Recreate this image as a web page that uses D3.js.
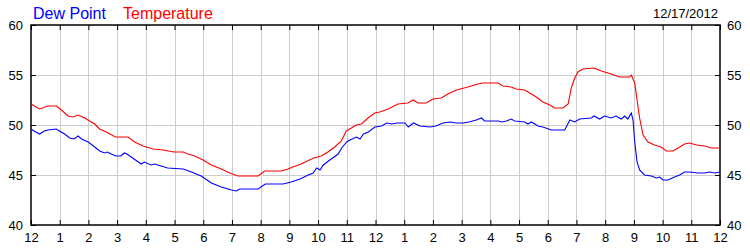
<!DOCTYPE html>
<html>
<head>
<meta charset="utf-8">
<script src="https://cdn.jsdelivr.net/npm/d3@7"></script>
<style>
  body { margin: 0; background: #fff; }
  text { font-family: "Liberation Sans", Arial, sans-serif; }
</style>
</head>
<body>
<div id="chart"></div>
<script>
// ---------------- data (hours after midnight, degrees F)
const hourTicks = d3.range(0, 25)
const tempTicks = [40, 45, 50, 55, 60]
const dateLabel = "12/17/2012"

const tempHours = [0, 0.3, 0.59, 0.88, 1.06, 1.29, 1.46, 1.64, 1.87, 2.04, 2.22, 2.39, 2.62, 2.94, 3.38, 3.61, 3.9, 4.25, 4.6, 4.98,
  5.3, 5.47, 5.7, 5.99, 6.28, 6.63, 6.92, 7.21, 7.91, 8.14, 8.72, 8.95, 9.12, 9.41, 9.7, 9.85,
  10.11, 10.34, 10.58, 10.81, 10.98, 11.16, 11.33, 11.51, 11.74, 11.97, 12.15, 12.44, 12.78, 13.13, 13.31, 13.48, 13.77, 14.0, 14.29, 14.52, 14.82,
  15.22, 15.57, 15.74, 16.27, 16.44, 16.73, 16.9, 17.2, 17.37, 17.6, 17.83, 18.07, 18.24, 18.53, 18.71, 18.82, 18.94, 19.05, 19.23, 19.61,
  19.87, 20.21, 20.5, 20.85, 20.91, 21.03, 21.12, 21.2, 21.32, 21.49, 21.72, 21.95, 22.13, 22.36, 22.54, 22.77, 22.94, 23.18, 23.47, 23.7, 24]
const tempValues = [52.1, 51.6, 51.9, 51.9, 51.5, 50.9, 50.8, 51.0, 50.7, 50.4, 50.1, 49.6, 49.3, 48.8, 48.8, 48.3, 47.9, 47.6, 47.5, 47.3,
  47.3, 47.1, 46.9, 46.5, 46.0, 45.6, 45.2, 44.9, 44.9, 45.4, 45.4, 45.6, 45.8, 46.1, 46.5, 46.7,
  46.9, 47.3, 47.8, 48.4, 49.4, 49.7, 50.0, 50.1, 50.7, 51.2, 51.3, 51.6, 52.1, 52.2, 52.5, 52.2, 52.2, 52.6, 52.7, 53.1, 53.5,
  53.8, 54.1, 54.2, 54.2, 53.9, 53.8, 53.6, 53.5, 53.2, 52.8, 52.3, 52.0, 51.7, 51.7, 52.1, 53.7, 54.7, 55.3, 55.6, 55.7,
  55.4, 55.1, 54.8, 54.8, 55.0, 54.2, 52.3, 50.7, 49.0, 48.3, 48.0, 47.8, 47.4, 47.4, 47.7, 48.1, 48.2, 48.0, 47.9, 47.7, 47.7]

const dewHours = [0, 0.1, 0.3, 0.46, 0.59, 0.88, 0.99, 1.17, 1.35, 1.5, 1.64, 1.76, 1.99, 2.22, 2.39, 2.56, 2.67, 2.79, 2.96, 3.13, 3.25, 3.34, 3.54,
  3.84, 3.95, 4.18, 4.3, 4.53, 4.76, 5.3, 5.59, 5.93, 6.28, 6.63, 6.98, 7.15, 7.27, 7.91, 8.16, 8.78, 9.06, 9.37, 9.66, 9.83, 9.95,
  10.07, 10.18, 10.41, 10.7, 10.82, 11.0, 11.11, 11.34, 11.46, 11.58, 11.75, 11.98, 12.21, 12.39, 12.56, 12.74, 13.03, 13.14, 13.32, 13.55,
  13.9, 14.1, 14.36, 14.59, 14.82, 15.05, 15.25, 15.51, 15.69, 15.8, 16.27, 16.4, 16.56, 16.73, 16.85, 17.2, 17.31, 17.43, 17.66, 17.83, 18.13, 18.59,
  18.77, 18.94, 19.11, 19.52, 19.61, 19.81, 19.98, 20.21, 20.38, 20.56, 20.68, 20.79, 20.91, 20.97, 21.03, 21.11, 21.2, 21.37, 21.61, 21.78, 21.9,
  22.01, 22.19, 22.42, 22.59, 22.77, 22.94, 23.23, 23.47, 23.64, 23.82, 24]
const dewValues = [49.6, 49.4, 49.1, 49.4, 49.5, 49.6, 49.4, 49.1, 48.7, 48.6, 48.9, 48.6, 48.3, 47.8, 47.4, 47.2, 47.3, 47.1, 46.9, 46.9, 47.2, 47.1, 46.7,
  46.1, 46.3, 46.0, 46.1, 45.9, 45.7, 45.6, 45.3, 44.9, 44.2, 43.8, 43.5, 43.4, 43.6, 43.6, 44.1, 44.1, 44.3, 44.6, 45.0, 45.2, 45.7,
  45.5, 46.0, 46.5, 47.1, 47.7, 48.3, 48.5, 48.8, 48.6, 49.1, 49.3, 49.8, 49.9, 50.2, 50.1, 50.2, 50.2, 49.8, 50.2, 49.9,
  49.8, 49.9, 50.2, 50.3, 50.2, 50.2, 50.3, 50.5, 50.7, 50.4, 50.4, 50.3, 50.4, 50.6, 50.4, 50.3, 50.1, 50.3, 49.9, 49.8, 49.5, 49.5,
  50.5, 50.3, 50.6, 50.7, 50.9, 50.6, 50.9, 50.7, 50.9, 50.6, 50.9, 50.6, 51.2, 50.5, 48.3, 46.3, 45.5, 45.0, 44.9, 44.7, 44.8,
  44.5, 44.5, 44.8, 45.0, 45.3, 45.3, 45.2, 45.2, 45.3, 45.2, 45.3]

// ---------------- dimensions
const dimensions = {
  width: 750,
  height: 250,
  left: 31,
  right: 720,
  top: 25,
  bottom: 225
}

const svg = d3.select("#chart")
  .append("svg")
  .attr("width", dimensions.width)
  .attr("height", dimensions.height)

// ---------------- scales
const xScale = d3.scaleLinear()
  .domain([0, 24])
  .range([dimensions.left, dimensions.right])

const yScale = d3.scaleLinear()
  .domain([40, 60])
  .range([dimensions.bottom, dimensions.top])

// ---------------- grid
svg.append("g")
  .selectAll("line")
  .data(hourTicks.slice(1, -1))
  .join("line")
  .attr("x1", d => Math.round(xScale(d)) + 0.5)
  .attr("x2", d => Math.round(xScale(d)) + 0.5)
  .attr("y1", dimensions.top)
  .attr("y2", dimensions.bottom)
  .attr("stroke", "#cccccc")

svg.append("g")
  .selectAll("line")
  .data(tempTicks.slice(1, -1))
  .join("line")
  .attr("x1", dimensions.left)
  .attr("x2", dimensions.right)
  .attr("y1", d => Math.round(yScale(d)) + 0.5)
  .attr("y2", d => Math.round(yScale(d)) + 0.5)
  .attr("stroke", "#cccccc")

// ---------------- axes (ticks point inward)
const hourFormat = h => (h % 12) || 12

const styleAxis = g => {
  g.select(".domain").remove()
  g.selectAll("text")
    .style("font-size", "13px")
    .style("font-family", "'Liberation Sans', Arial, sans-serif")
    .attr("fill", "#000")
  g.selectAll("line").attr("stroke", "#000")
}

svg.append("g")
  .attr("transform", `translate(0,${dimensions.bottom})`)
  .call(d3.axisBottom(xScale).tickValues(hourTicks).tickFormat(hourFormat).tickSizeInner(-5).tickPadding(8))
  .call(styleAxis)

svg.append("g")
  .attr("transform", `translate(0,${dimensions.top})`)
  .call(d3.axisTop(xScale).tickValues(hourTicks).tickFormat("").tickSizeInner(-5))
  .call(styleAxis)

svg.append("g")
  .attr("transform", `translate(${dimensions.left},0)`)
  .call(d3.axisLeft(yScale).tickValues(tempTicks).tickSizeInner(-5).tickPadding(8))
  .call(styleAxis)

svg.append("g")
  .attr("transform", `translate(${dimensions.right},0)`)
  .call(d3.axisRight(yScale).tickValues(tempTicks).tickSizeInner(-5).tickPadding(7))
  .call(styleAxis)

// ---------------- frame
svg.append("rect")
  .attr("x", dimensions.left)
  .attr("y", dimensions.top)
  .attr("width", dimensions.right - dimensions.left)
  .attr("height", dimensions.bottom - dimensions.top)
  .attr("fill", "none")
  .attr("stroke", "#000")
  .attr("stroke-width", 1.5)

// ---------------- lines
const lineGenerator = d3.line()
  .x(d => xScale(d[0]))
  .y(d => yScale(d[1]))

const series = [
  { name: "Temperature", color: "#ff0000", points: d3.zip(tempHours, tempValues) },
  { name: "Dew Point", color: "#0000ff", points: d3.zip(dewHours, dewValues) }
]

svg.append("g")
  .selectAll("path")
  .data(series)
  .join("path")
  .attr("d", d => lineGenerator(d.points))
  .attr("fill", "none")
  .attr("stroke", d => d.color)
  .attr("stroke-width", 1.1)

// ---------------- legend / title
svg.append("text")
  .attr("x", 33)
  .attr("y", 18.5)
  .text("Dew Point")
  .attr("fill", "#0000ff")
  .style("font-size", "16px")

svg.append("text")
  .attr("x", 123)
  .attr("y", 18.5)
  .text("Temperature")
  .attr("fill", "#ff0000")
  .style("font-size", "16px")

svg.append("text")
  .attr("x", 718)
  .attr("y", 18)
  .attr("text-anchor", "end")
  .text(dateLabel)
  .attr("fill", "#000")
  .style("font-size", "13px")
</script>
</body>
</html>
